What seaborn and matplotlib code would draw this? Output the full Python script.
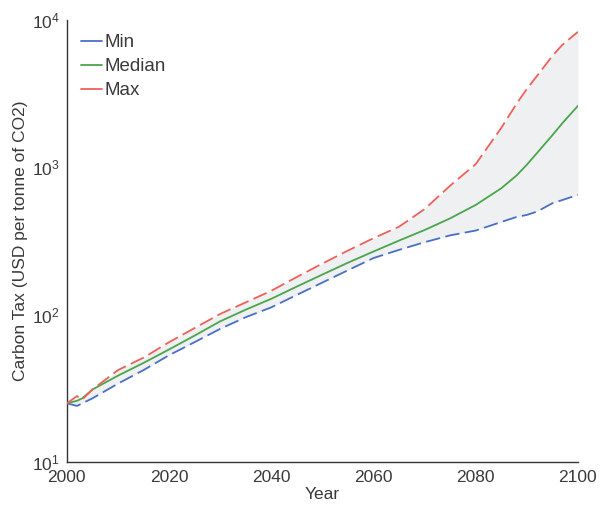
import matplotlib
matplotlib.use("Agg")
import matplotlib.pyplot as plt
from matplotlib.lines import Line2D
from matplotlib.ticker import LogLocator, FixedLocator
import seaborn as sns
import pandas as pd

years = [2000, 2002, 2003, 2005, 2010, 2015, 2020, 2025, 2030, 2035, 2040, 2045,
         2050, 2055, 2060, 2065, 2070, 2075, 2080, 2085, 2088, 2090, 2092, 2095,
         2097, 2100]
tax_min = [25, 24, 25, 27, 34, 42, 53, 65, 80, 96, 112, 136,
           165, 200, 242, 275, 310, 345, 372, 425, 460, 475, 500, 570,
           600, 650]
tax_median = [25, 26, 27, 31, 38.5, 47, 58, 72, 90, 108, 128, 155,
              187, 225, 268, 318, 375, 450, 555, 720, 880, 1040, 1250, 1650,
              2000, 2610]
tax_max = [25, 28, 26.5, 31, 42, 51, 65, 81, 101, 121, 145, 180,
           222, 272, 330, 395, 520, 750, 1050, 1850, 2700, 3400, 4170, 5700,
           6800, 8300]

series_names = ["Min", "Median", "Max"]
series_colors = ["#4a6fc7", "#4ba54b", "#f0605a"]

df = pd.DataFrame({"Year": years, "Min": tax_min, "Median": tax_median, "Max": tax_max})

sns.set_style("white")
plt.rcParams["font.family"] = ["Liberation Sans", "DejaVu Sans"]
text_color = "#3a3a3a"

fig = plt.figure(figsize=(6.02, 5.11), dpi=100)
ax = fig.add_axes([0.111, 0.096, 0.849, 0.865])

ax.fill_between(df["Year"], df["Min"], df["Max"], color="#eef0f2", lw=0, zorder=1)

styles = {"Min": (0, (8, 3)), "Median": "-", "Max": (0, (8, 3))}
for name, col in zip(series_names, series_colors):
    sns.lineplot(data=df, x="Year", y=name, ax=ax, color=col, lw=1.3,
                 linestyle=styles[name], zorder=3)

ax.set_yscale("log")
ax.set_xlim(2000, 2100)
ax.set_ylim(10, 10000)
ax.xaxis.set_major_locator(FixedLocator([2000, 2020, 2040, 2060, 2080, 2100]))
ax.yaxis.set_major_locator(LogLocator(base=10))
ax.yaxis.set_minor_locator(LogLocator(base=10, subs=range(2, 10)))

for s in ["top", "right"]:
    ax.spines[s].set_visible(False)
for s in ["left", "bottom"]:
    ax.spines[s].set_color("#333333")
    ax.spines[s].set_linewidth(1.0)

ax.tick_params(axis="both", which="major", direction="in", length=5, width=0.9,
               colors="#333333", labelcolor=text_color, labelsize=12.5)
ax.tick_params(axis="y", which="minor", direction="in", length=3, width=0.8,
               colors="#333333")
ax.tick_params(axis="x", which="major", pad=6)
ax.tick_params(axis="y", which="major", pad=5)

ax.set_xlabel("Year", fontsize=12.5, color=text_color, labelpad=1)
ax.set_ylabel("Carbon Tax (USD per tonne of CO2)", fontsize=12.5, color=text_color, labelpad=3)

handles = [Line2D([0], [0], color=c, lw=1.3) for c in series_colors]
ax.legend(handles, series_names, loc="upper left", frameon=False, fontsize=13.5,
          handlelength=1.12, handletextpad=0.15, labelspacing=0.37,
          bbox_to_anchor=(-0.006, 1.006), labelcolor=text_color)

fig.savefig("out.png", dpi=100)
